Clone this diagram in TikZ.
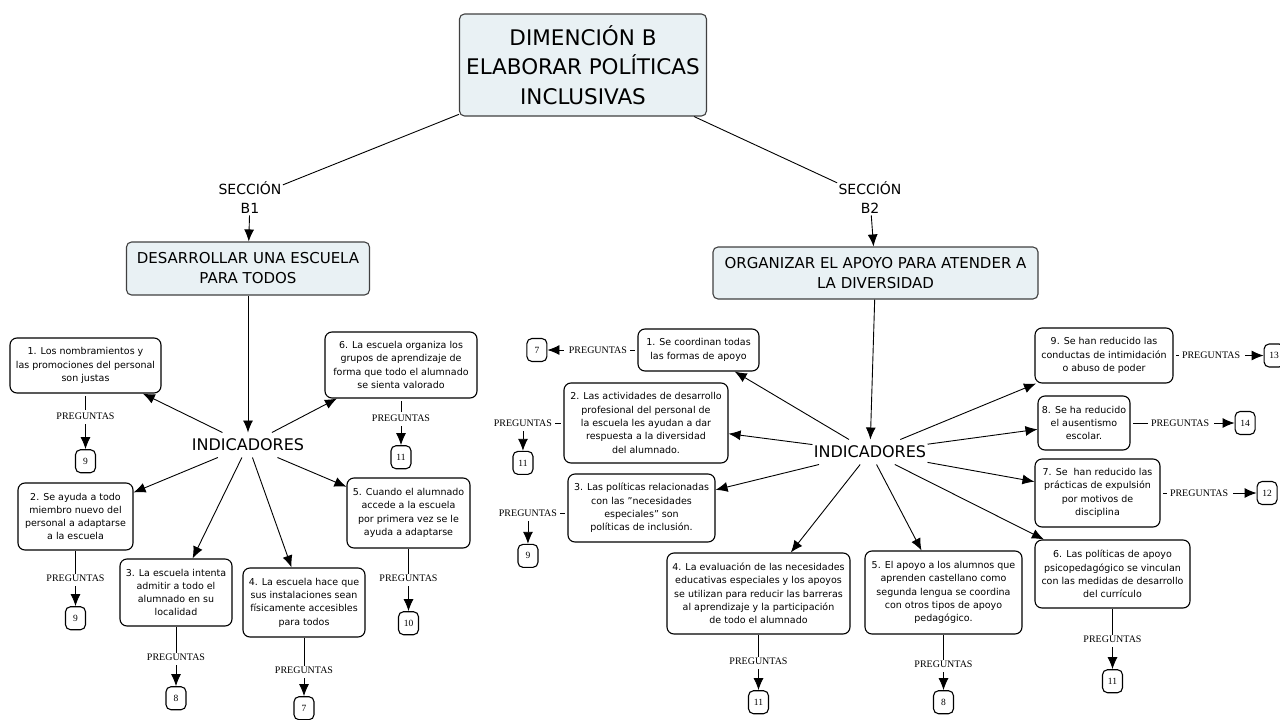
\documentclass[tikz,border=0pt]{standalone}
\usepackage{fontspec}
\setmainfont{DejaVu Sans}
\newfontfamily\pregfont{Liberation Serif}
\usetikzlibrary{positioning,arrows.meta}
\definecolor{headfill}{RGB}{233,241,244}

\begin{document}
\begin{tikzpicture}[
  x=1pt, y=-1pt,
  >={Latex[length=12pt,width=10pt]},
  line width=0.9pt,
  headbox/.style={draw=black!75, line width=1.1pt, fill=headfill, rounded corners=5pt, align=center, inner sep=2pt},
  indbox/.style={draw, line width=1.1pt, rounded corners=7pt, align=center, font=\fontsize{9.5}{13.3}\selectfont, inner sep=3pt},
  sectag/.style={align=center, font=\fontsize{14}{19}\selectfont, inner sep=1pt},
  indtag/.style={font=\fontsize{16}{19}\selectfont, inner xsep=1pt, inner ysep=6pt},
  preg/.style={font=\pregfont\fontsize{10}{11}\selectfont, inner sep=1pt},
  numbox/.style={draw, line width=1.1pt, rounded corners=5pt, font=\pregfont\fontsize{9.5}{11}\selectfont, minimum width=20pt, minimum height=23pt, inner sep=2pt},
  tick/.style={shorten <=2pt, shorten >=2pt}
]
\useasboundingbox (0,0) rectangle (1280,720);

\node (dim) [headbox, minimum width=247pt, minimum height=102pt, font=\fontsize{21.5}{29.5}\selectfont] at (583,65) {DIMENCIÓN B\\ELABORAR POLÍTICAS\\INCLUSIVAS};

\node (secB1) [sectag] at (250,198) {SECCIÓN\\B1} edge (dim);
\node (secB2) [sectag] at (870,198) {SECCIÓN\\B2} edge (dim);

\node (desB1) [headbox, minimum width=243pt, minimum height=53pt, font=\fontsize{15}{20}\selectfont] at (248,268.5) {DESARROLLAR UNA ESCUELA\\PARA TODOS} edge[<-] (secB1);
\node (orgB2) [headbox, minimum width=325pt, minimum height=52pt, font=\fontsize{15}{20}\selectfont] at (875.5,273) {ORGANIZAR EL APOYO PARA ATENDER A\\LA DIVERSIDAD} edge[<-] (secB2);

\node (indB1) [indtag] at (248,445) {INDICADORES} edge[<-] (desB1);
\node (indB2) [indtag] at (870,452) {INDICADORES} edge[<-] (orgB2);

% seccion B1
\node (nombr) [indbox, minimum width=151pt, minimum height=55pt] at (85.5,365.5) {1. Los nombramientos y\\las promociones del personal\\son justas} edge[<-] (indB1);
\node (pregNombr) [preg, below=18pt of nombr] {PREGUNTAS} edge[tick] (nombr);
\node (numNombr) [numbox, below=28pt of pregNombr] {9} edge[<-, shorten >=3pt] (pregNombr);

\node (nuevo) [indbox, minimum width=115pt, minimum height=67pt] at (75.5,516.5) {2. Se ayuda a todo\\miembro nuevo del\\personal a adaptarse\\a la escuela} edge[<-] (indB1);
\node (pregNuevo) [preg, below=23pt of nuevo] {PREGUNTAS} edge (nuevo);
\node (numNuevo) [numbox, below=23pt of pregNuevo] {9} edge[<-, shorten >=3pt] (pregNuevo);

\node (admit) [indbox, minimum width=112pt, minimum height=67pt] at (176,592.5) {3. La escuela intenta\\admitir a todo el\\alumnado en su\\localidad} edge[<-] (indB1);
\node (pregAdmit) [preg, below=26pt of admit] {PREGUNTAS} edge (admit);
\node (numAdmit) [numbox, below=24pt of pregAdmit] {8} edge[<-, shorten >=3pt] (pregAdmit);

\node (instal) [indbox, minimum width=122pt, minimum height=69pt] at (304,602.5) {4. La escuela hace que\\sus instalaciones sean\\físicamente accesibles\\para todos} edge[<-] (indB1);
\node (pregInstal) [preg, below=28pt of instal] {PREGUNTAS} edge (instal);
\node (numInstal) [numbox, below=21pt of pregInstal] {7} edge[<-, shorten >=3pt] (pregInstal);

\node (acceso) [indbox, minimum width=123pt, minimum height=70pt] at (408.5,513) {5. Cuando el alumnado\\accede a la escuela\\por primera vez se le\\ayuda a adaptarse} edge[<-] (indB1);
\node (pregAcceso) [preg, below=25pt of acceso] {PREGUNTAS} edge (acceso);
\node (numAcceso) [numbox, below=28pt of pregAcceso] {10} edge[<-, shorten >=3pt] (pregAcceso);

\node (grupos) [indbox, minimum width=152pt, minimum height=66pt] at (401,365) {6. La escuela organiza los\\grupos de aprendizaje de\\forma que todo el alumnado\\se sienta valorado} edge[<-] (indB1);
\node (pregGrupos) [preg, below=15pt of grupos] {PREGUNTAS} edge[tick] (grupos);
\node (numGrupos) [numbox, below=22pt of pregGrupos] {11} edge[<-, shorten >=3pt] (pregGrupos);

% seccion B2
\node (coord) [indbox, minimum width=121pt, minimum height=42pt] at (698.5,350) {1. Se coordinan todas\\las formas de apoyo} edge[<-] (indB2);
\node (pregCoord) [preg, left=9pt of coord] {PREGUNTAS} edge[tick] (coord);
\node (numCoord) [numbox, left=20pt of pregCoord] {7} edge[<-, shorten >=3pt] (pregCoord);

\node (activ) [indbox, minimum width=164pt, minimum height=80pt] at (646,423) {2. Las actividades de desarrollo\\profesional del personal de\\la escuela les ayudan a dar\\respuesta a la diversidad\\del alumnado.} edge[<-] (indB2);
\node (pregActiv) [preg, left=10pt of activ] {PREGUNTAS} edge[tick] (activ);
\node (numActiv) [numbox, below=23pt of pregActiv] {11} edge[<-, shorten >=3pt] (pregActiv);

\node (polit) [indbox, minimum width=147pt, minimum height=68pt] at (641.5,508) {3. Las políticas relacionadas\\con las "necesidades\\especiales” son\\políticas de inclusión.} edge[<-] (indB2);
\node (pregPolit) [preg, left=9pt of polit, yshift=-5pt] {PREGUNTAS} edge[tick] (pregPolit.east -| polit.west);
\node (numPolit) [numbox, below=26pt of pregPolit] {9} edge[<-, shorten >=3pt] (pregPolit);

\node (evalu) [indbox, minimum width=183pt, minimum height=81pt] at (758.5,593.5) {4. La evaluación de las necesidades\\educativas especiales y los apoyos\\se utilizan para reducir las barreras\\al aprendizaje y la participación\\de todo el alumnado} edge[<-] (indB2);
\node (pregEvalu) [preg, below=22pt of evalu] {PREGUNTAS} edge (evalu);
\node (numEvalu) [numbox, below=24pt of pregEvalu] {11} edge[<-, shorten >=3pt] (pregEvalu);

\node (castel) [indbox, minimum width=157pt, minimum height=83pt] at (943.5,592.5) {5. El apoyo a los alumnos que\\aprenden castellano como\\segunda lengua se coordina\\con otros tipos de apoyo\\pedagógico.} edge[<-] (indB2);
\node (pregCastel) [preg, below=25pt of castel] {PREGUNTAS} edge (castel);
\node (numCastel) [numbox, below=21pt of pregCastel] {8} edge[<-, shorten >=3pt] (pregCastel);

\node (psico) [indbox, minimum width=155pt, minimum height=68pt] at (1112.5,574) {6. Las políticas de apoyo\\psicopedagógico se vinculan\\con las medidas de desarrollo\\del currículo} edge[<-] (indB2);
\node (pregPsico) [preg, below=26pt of psico] {PREGUNTAS} edge (psico);
\node (numPsico) [numbox, below=25pt of pregPsico] {11} edge[<-, shorten >=3pt] (pregPsico);

\node (expul) [indbox, minimum width=125pt, minimum height=68pt] at (1097.5,493) {7. Se\ \ han reducido las\\prácticas de expulsión\\por motivos de\\disciplina} edge[<-] (indB2);
\node (pregExpul) [preg, right=8pt of expul] {PREGUNTAS} edge[tick] (expul);
\node (numExpul) [numbox, right=27pt of pregExpul] {12} edge[<-, shorten >=3pt] (pregExpul);

\node (ausent) [indbox, minimum width=92pt, minimum height=54pt] at (1084,423) {8. Se ha reducido\\el ausentismo\\escolar.} edge[<-] (indB2);
\node (pregAusent) [preg, right=19pt of ausent] {PREGUNTAS} edge[tick] (ausent);
\node (numAusent) [numbox, right=24pt of pregAusent] {14} edge[<-, shorten >=3pt] (pregAusent);

\node (intim) [indbox, minimum width=138pt, minimum height=55pt] at (1104,355.5) {9. Se han reducido las\\conductas de intimidación\\o abuso de poder} edge[<-] (indB2);
\node (pregIntim) [preg, right=7pt of intim] {PREGUNTAS} edge[tick] (intim);
\node (numIntim) [numbox, right=22pt of pregIntim] {13} edge[<-, shorten >=3pt] (pregIntim);

\end{tikzpicture}
\end{document}
